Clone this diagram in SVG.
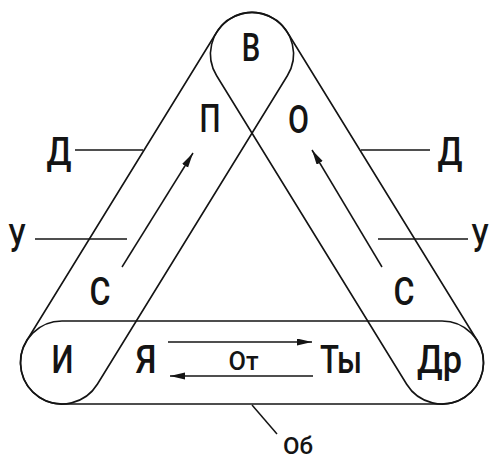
<svg xmlns="http://www.w3.org/2000/svg" width="494" height="461" viewBox="0 0 494 461">
<defs>
<style>
.cap{fill:none;stroke:#141414;stroke-width:1.6}
.ln{fill:none;stroke:#141414;stroke-width:1.5}
text{font-family:Roboto,"Liberation Sans",Arial,sans-serif;font-weight:500;fill:#141414;text-anchor:middle}
.t{font-size:38px}
.s{font-size:25px}
.o{font-size:24px}
</style>
<marker id="ah" markerUnits="userSpaceOnUse" markerWidth="15" markerHeight="8" refX="15" refY="3.5" orient="auto">
<path d="M0,0 L15,3.5 L0,7 Z" fill="#141414"/>
</marker>
</defs>
<rect width="494" height="461" fill="#fff"/>
<g id="capsules">
<path id="cap-left" class="cap" d="M26.66,340.74 L216.66,32.24 A41.5,41.5 0 0 1 287.34,75.76 L97.34,384.26 A41.5,41.5 0 0 1 26.66,340.74 Z"/>
<path id="cap-right" class="cap" d="M287.34,32.24 L477.34,340.74 A41.5,41.5 0 0 1 406.66,384.26 L216.66,75.76 A41.5,41.5 0 0 1 287.34,32.24 Z"/>
<path id="cap-bottom" class="cap" d="M62,321 L442,321 A41.5,41.5 0 0 1 442,404 L62,404 A41.5,41.5 0 0 1 62,321 Z"/>
</g>
<g id="connectors">
<line class="ln" x1="75" y1="150" x2="143" y2="150"/>
<line class="ln" x1="361" y1="150" x2="430" y2="150"/>
<line class="ln" x1="35" y1="239" x2="127" y2="239"/>
<line class="ln" x1="378" y1="239" x2="468" y2="239"/>
<line class="ln" x1="122" y1="267" x2="193" y2="153" marker-end="url(#ah)"/>
<line class="ln" x1="382" y1="267" x2="312" y2="150" marker-end="url(#ah)"/>
<line class="ln" x1="168" y1="342" x2="312" y2="342" marker-end="url(#ah)"/>
<line class="ln" x1="313" y1="376" x2="170" y2="376" marker-end="url(#ah)"/>
<line class="ln" x1="252" y1="405" x2="277" y2="434"/>
</g>
<g id="n-V"><text class="t" x="251" y="61" textLength="18.5" lengthAdjust="spacingAndGlyphs">В</text></g>
<g id="n-P"><text class="t" x="210" y="132" textLength="21" lengthAdjust="spacingAndGlyphs">П</text></g>
<g id="n-O"><text class="t" x="298.5" y="133" textLength="21" lengthAdjust="spacingAndGlyphs">О</text></g>
<g id="n-D-left"><text class="t" x="59" y="165" textLength="25" lengthAdjust="spacingAndGlyphs">Д</text></g>
<g id="n-D-right"><text class="t" x="450" y="165" textLength="25" lengthAdjust="spacingAndGlyphs">Д</text></g>
<g id="n-U-left"><text class="t" x="17" y="252" textLength="18" lengthAdjust="spacingAndGlyphs">У</text></g>
<g id="n-U-right"><text class="t" x="480" y="252" textLength="18" lengthAdjust="spacingAndGlyphs">У</text></g>
<g id="n-S-left"><text class="t" x="100" y="305" textLength="21" lengthAdjust="spacingAndGlyphs">С</text></g>
<g id="n-S-right"><text class="t" x="404" y="305" textLength="21" lengthAdjust="spacingAndGlyphs">С</text></g>
<g id="n-I"><text class="t" x="62.5" y="373" textLength="22" lengthAdjust="spacingAndGlyphs">И</text></g>
<g id="n-Ya"><text class="t" x="146" y="373" textLength="21" lengthAdjust="spacingAndGlyphs">Я</text></g>
<g id="n-Ty"><text class="t" x="341" y="373" textLength="42" lengthAdjust="spacingAndGlyphs">Ты</text></g>
<g id="n-Dr"><text class="t" x="439.5" y="373" textLength="45" lengthAdjust="spacingAndGlyphs">Др</text></g>
<g id="n-Ot"><text class="s" x="243.5" y="370" textLength="30" lengthAdjust="spacingAndGlyphs">От</text></g>
<g id="n-Ob"><text class="o" x="298" y="454" textLength="30" lengthAdjust="spacingAndGlyphs">Об</text></g>
</svg>
